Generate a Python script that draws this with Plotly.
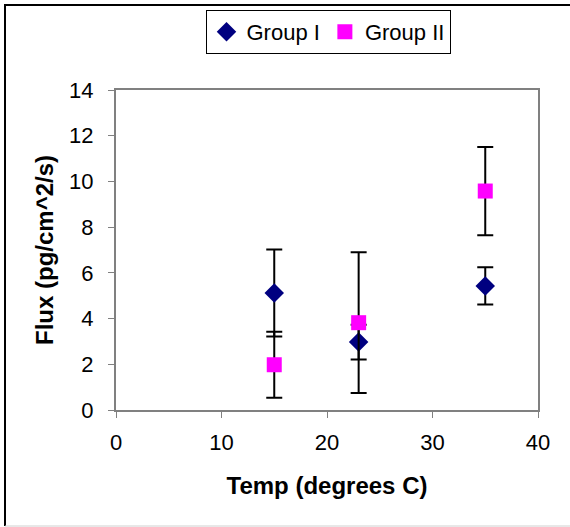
import plotly.graph_objects as go

temps = [15, 23, 35]
group1 = [5.12, 2.97, 5.43]
group1_err = [1.9, 0.76, 0.81]
group2 = [1.98, 3.82, 9.58]
group2_err = [1.44, 3.08, 1.93]

FONT = "Arial, Liberation Sans, sans-serif"
tick_font = dict(family=FONT, size=22, color="black")
title_font = dict(family=FONT, size=24, color="black")

fig = go.Figure()
fig.add_trace(go.Scatter(
    x=temps, y=group1, mode="markers", name="Group I",
    marker=dict(symbol="diamond", size=15, color="#000080"),
    error_y=dict(type="data", array=group1_err, visible=True, color="black", thickness=2, width=8),
))
fig.add_trace(go.Scatter(
    x=temps, y=group2, mode="markers", name="Group II",
    marker=dict(symbol="square", size=15, color="#FF00FF"),
    error_y=dict(type="data", array=group2_err, visible=True, color="black", thickness=2, width=8),
))

L, T, PW, PH = 116, 90, 422, 320
W, H = 570, 527

fig.update_layout(
    width=W, height=H,
    margin=dict(l=L, r=W - L - PW, t=T, b=H - T - PH),
    paper_bgcolor="white", plot_bgcolor="white",
    font=tick_font,
    showlegend=True,
    legend=dict(
        orientation="h", x=328 / W, xanchor="center", y=1 - 10 / H, yanchor="top",
        yref="container", xref="container",
        bordercolor="black", borderwidth=1,
        font=dict(family=FONT, size=22, color="black"),
        itemwidth=30, tracegroupgap=0,
    ),
    xaxis=dict(
        range=[0, 40], dtick=10, tick0=0,
        showgrid=False, zeroline=False,
        showline=True, linecolor="#808080", linewidth=2, mirror=True,
        ticks="outside", ticklen=6, tickcolor="#808080", tickwidth=1,
        tickfont=tick_font, ticklabelstandoff=6,
        title=dict(text="<b>Temp (degrees C)</b>", font=title_font, standoff=23),
    ),
    yaxis=dict(
        range=[0, 14], dtick=2, tick0=0,
        showgrid=False, zeroline=False,
        showline=True, linecolor="#808080", linewidth=2, mirror=True,
        ticks="outside", ticklen=6, tickcolor="#808080", tickwidth=1,
        tickfont=tick_font, ticklabelstandoff=10,
        title=dict(text="<b>Flux (pg/cm^2/s)</b>", font=title_font, standoff=9),
    ),
    shapes=[
        dict(type="line", xref="paper", yref="paper",
             x0=(4 - L) / PW, x1=(W - L) / PW, y0=1 + (T - 5) / PH, y1=1 + (T - 5) / PH,
             line=dict(color="black", width=2)),
        dict(type="line", xref="paper", yref="paper",
             x0=(5 - L) / PW, x1=(5 - L) / PW, y0=1 + (T - 4) / PH, y1=1 - (526 - T) / PH,
             line=dict(color="black", width=2)),
        dict(type="line", xref="paper", yref="paper",
             x0=(5 - L) / PW, x1=(W - L) / PW, y0=1 - (526 - T) / PH, y1=1 - (526 - T) / PH,
             line=dict(color="#d0d0d0", width=1)),
    ],
)

fig.write_html("out.html", config={"displayModeBar": False},
               post_script="document.body.style.margin='0';")
